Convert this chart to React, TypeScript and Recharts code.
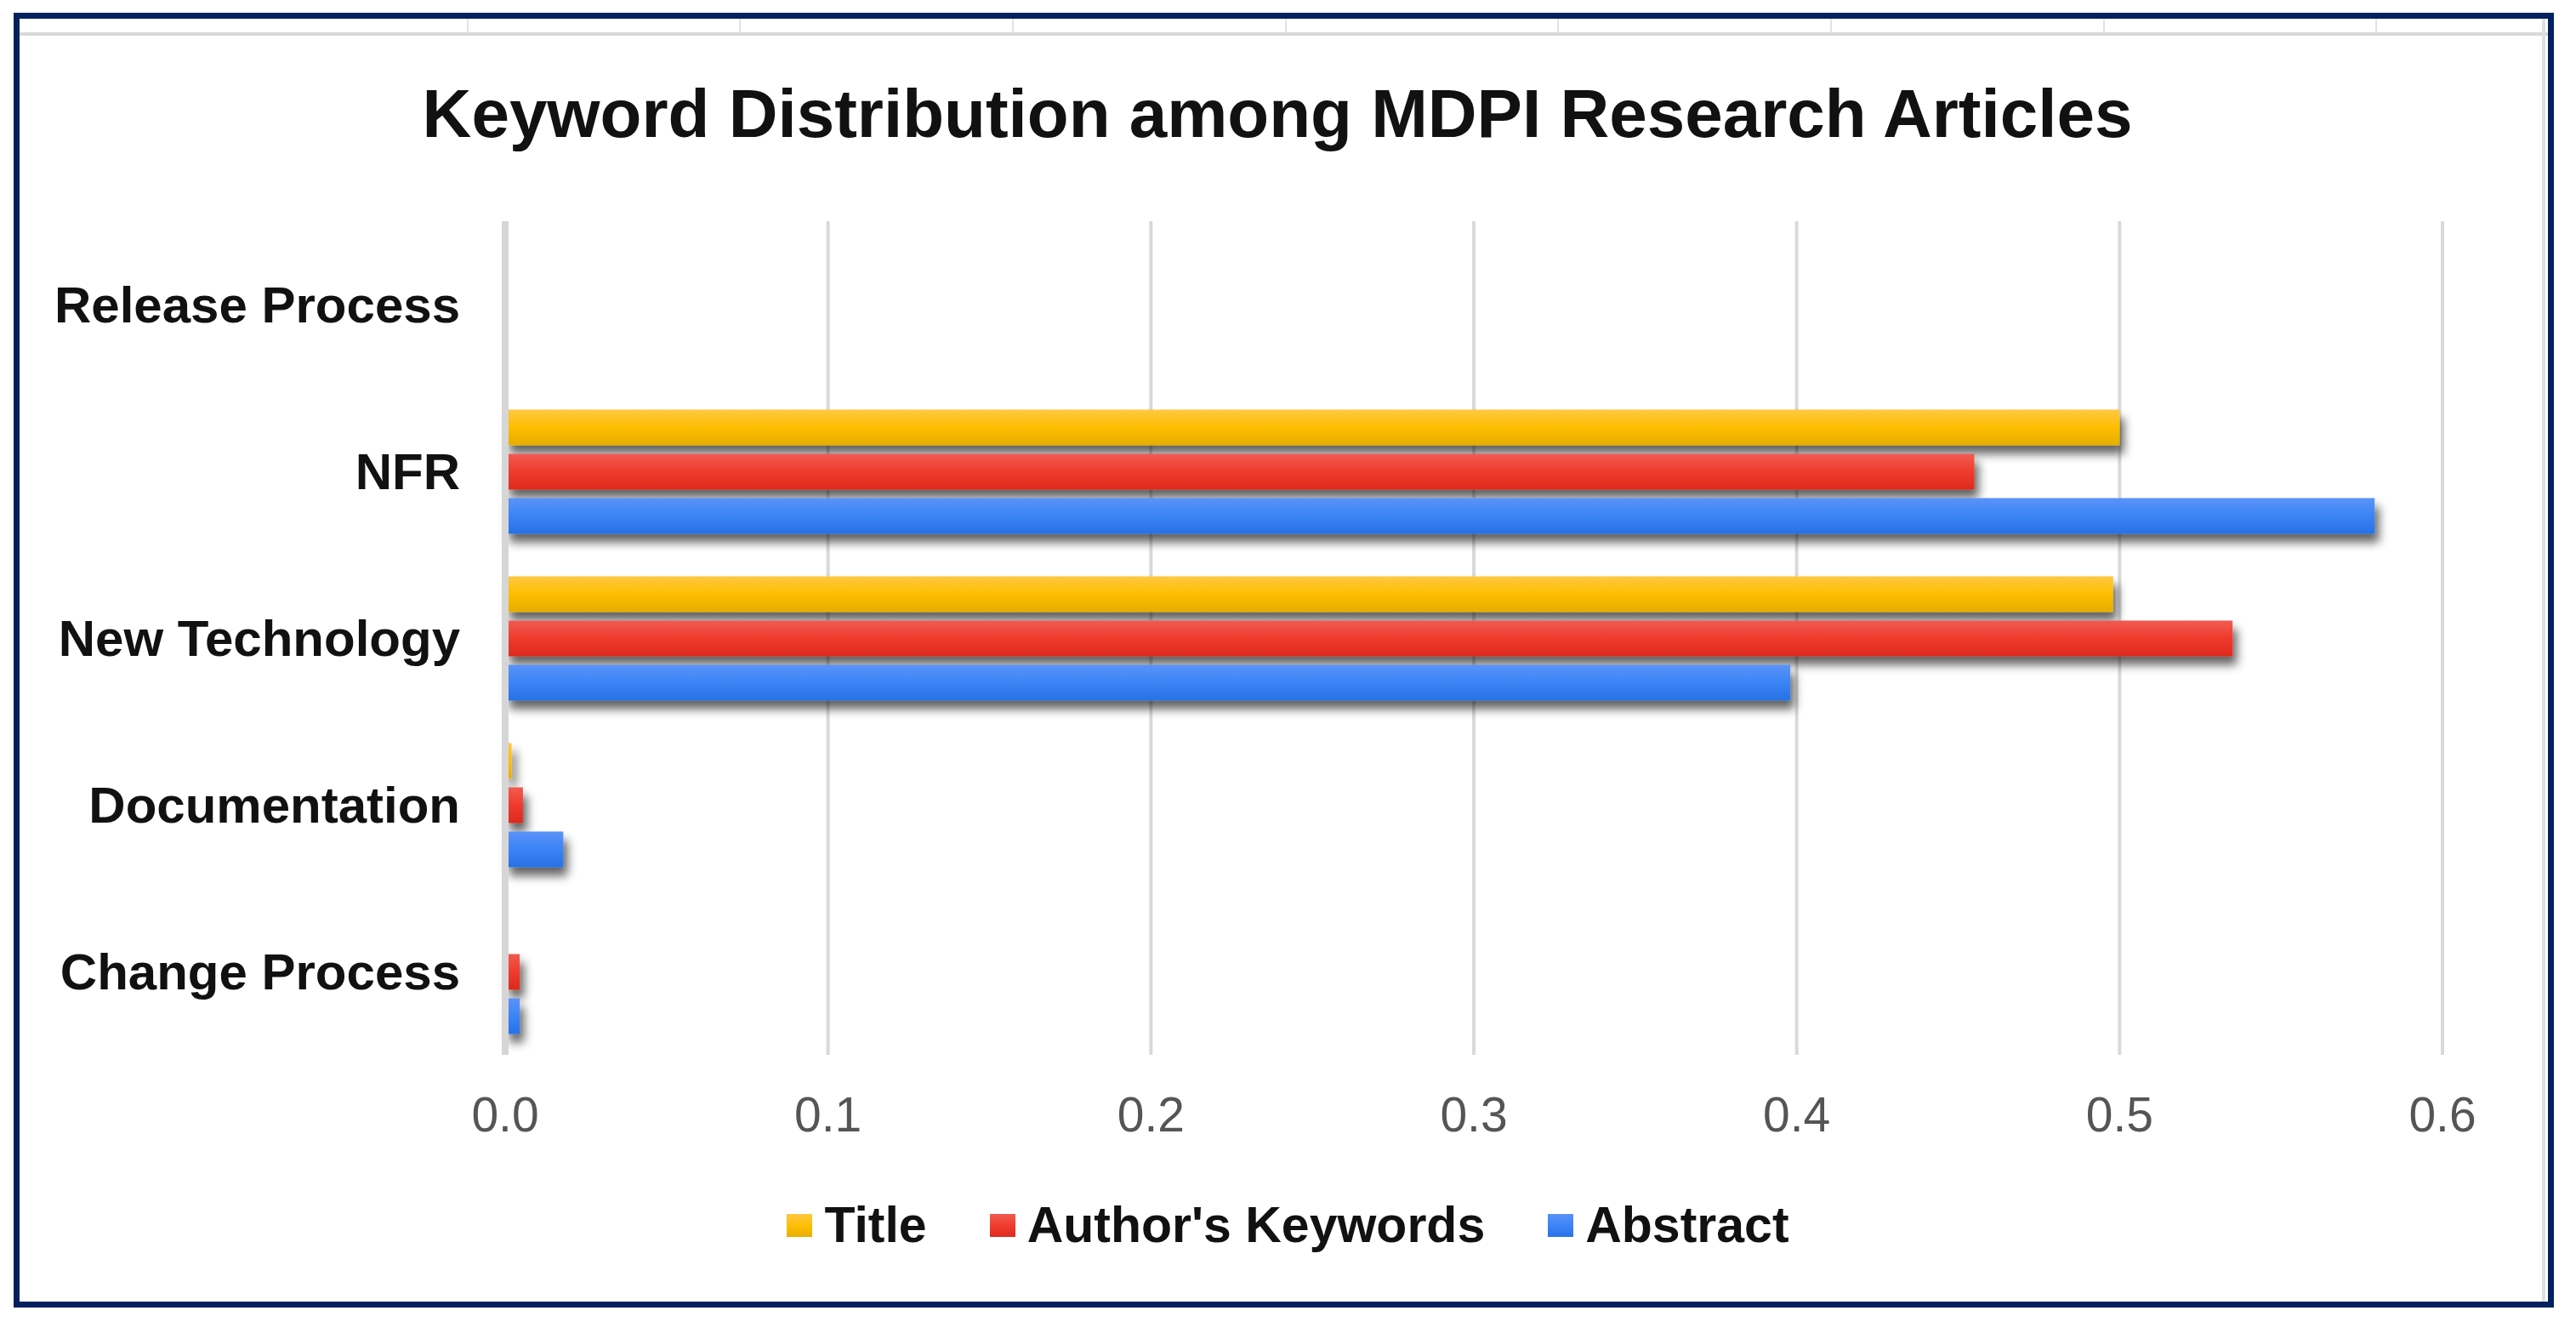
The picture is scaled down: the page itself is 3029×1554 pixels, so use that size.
import React from 'react';
import { BarChart, Bar, XAxis, YAxis, CartesianGrid, Legend } from 'recharts';

const categories = ['Release Process', 'NFR', 'New Technology', 'Documentation', 'Change Process'];
const titleValues = [0, 0.5, 0.498, 0.002, 0];
const authorValues = [0, 0.455, 0.535, 0.0055, 0.0045];
const abstractValues = [0, 0.579, 0.398, 0.018, 0.0045];
const xTicks = [0, 0.1, 0.2, 0.3, 0.4, 0.5, 0.6];
const seriesNames = ['Title', "Author's Keywords", 'Abstract'];
const seriesKeys = ['title', 'author', 'abstract'];
const gradIds = ['gYellow', 'gRed', 'gBlue'];
const legendGradients = [
  'linear-gradient(#ffc843, #fdbd00 55%, #e8ae00)',
  'linear-gradient(#f05c52, #ef3a2c 55%, #de2b1e)',
  'linear-gradient(#5b93f8, #3a83f6 55%, #2872e6)',
];

const data = categories.map((name, i) => ({
  name,
  title: titleValues[i],
  author: authorValues[i],
  abstract: abstractValues[i],
}));

const FONT = '"Liberation Sans", Arial, Helvetica, sans-serif';

const makeShape = (gid: string) => (props: any) => {
  const { x, y, width, height } = props;
  if (!width || width <= 0 || !height) return <g />;
  return <rect x={x} y={y} width={width} height={height} fill={`url(#${gid})`} filter="url(#barShadow)" />;
};

const renderLegend = () => (
  <div style={{ display: 'flex', justifyContent: 'center', alignItems: 'center', fontFamily: FONT }}>
    {seriesNames.map((n, i) => (
      <div key={n} style={{ display: 'flex', alignItems: 'center', marginLeft: i === 0 ? 0 : 74, height: 59 }}>
        <div style={{ width: 30, height: 27, background: legendGradients[i], marginRight: 14 }} />
        <span style={{ fontSize: 59, lineHeight: '59px', fontWeight: 'bold', color: '#111' }}>{n}</span>
      </div>
    ))}
  </div>
);

const sheetLines = [549, 869, 1190, 1511, 1831, 2152, 2473, 2793];

export default function App() {
  return (
    <div style={{ position: 'absolute', left: 0, top: 0, width: 3029, height: 1554, background: '#fff', fontFamily: FONT, overflow: 'hidden' }}>
      <svg width={0} height={0} style={{ position: 'absolute' }}>
        <defs>
          <linearGradient id="gYellow" x1="0" y1="0" x2="0" y2="1">
            <stop offset="0" stopColor="#ffc843" />
            <stop offset="0.5" stopColor="#fdbe00" />
            <stop offset="1" stopColor="#e6ad00" />
          </linearGradient>
          <linearGradient id="gRed" x1="0" y1="0" x2="0" y2="1">
            <stop offset="0" stopColor="#f05c52" />
            <stop offset="0.5" stopColor="#ef3a2c" />
            <stop offset="1" stopColor="#dd2a1d" />
          </linearGradient>
          <linearGradient id="gBlue" x1="0" y1="0" x2="0" y2="1">
            <stop offset="0" stopColor="#5b93f8" />
            <stop offset="0.5" stopColor="#3a84f6" />
            <stop offset="1" stopColor="#2771e5" />
          </linearGradient>
          <filter id="barShadow" filterUnits="userSpaceOnUse" x="0" y="0" width="3029" height="1554">
            <feGaussianBlur in="SourceAlpha" stdDeviation="6" result="blur" />
            <feOffset in="blur" dx="5" dy="10" result="off" />
            <feComponentTransfer in="off" result="sh">
              <feFuncA type="linear" slope="0.62" />
            </feComponentTransfer>
            <feMerge>
              <feMergeNode in="sh" />
              <feMergeNode in="SourceGraphic" />
            </feMerge>
          </filter>
        </defs>
      </svg>

      {/* spreadsheet cell artifacts at top */}
      {sheetLines.map((x) => (
        <div key={x} style={{ position: 'absolute', left: x, top: 22, width: 2, height: 16, background: '#e2e2e2' }} />
      ))}
      <div style={{ position: 'absolute', left: 22, top: 38, width: 2975, height: 4, background: '#d9d9d9' }} />
      <div style={{ position: 'absolute', left: 2989, top: 22, width: 4, height: 1508, background: '#e0e0e0' }} />

      <div
        style={{
          position: 'absolute', left: 0, top: 94, width: 3004, textAlign: 'center',
          fontSize: 80, lineHeight: '80px', fontWeight: 'bold', color: '#111',
        }}
      >
        Keyword Distribution among MDPI Research Articles
      </div>

      <div style={{ position: 'absolute', left: 0, top: 0 }}>
        <BarChart
          width={3029}
          height={1554}
          data={data}
          layout="vertical"
          margin={{ top: 260, right: 157, bottom: 0, left: 0 }}
          barCategoryGap="13%"
          barGap={10}
        >
          <CartesianGrid horizontal={false} vertical={true} stroke="#d9d9d9" strokeWidth={4} />
          <XAxis
            type="number"
            domain={[0, 0.6]}
            ticks={xTicks}
            height={314}
            axisLine={false}
            tickLine={false}
            tickSize={0}
            tickMargin={50}
            tickFormatter={(v: number) => v.toFixed(1)}
            tick={{ fontSize: 57, fill: '#555', fontFamily: FONT }}
          />
          <YAxis
            type="category"
            dataKey="name"
            width={594}
            axisLine={{ stroke: '#d6d6d6', strokeWidth: 8 }}
            tickLine={false}
            tickSize={0}
            tickMargin={53}
            interval={0}
            tick={{ fontSize: 60, fill: '#111', fontWeight: 'bold', fontFamily: FONT }}
          />
          {seriesKeys.map((k, i) => (
            <Bar key={k} dataKey={k} name={seriesNames[i]} fill={legendGradients[i]} isAnimationActive={false} shape={makeShape(gradIds[i])} />
          ))}
          <Legend
            layout="horizontal"
            verticalAlign="middle"
            align="center"
            wrapperStyle={{ top: 1411, left: 0, width: 3029 }}
            content={renderLegend}
          />
        </BarChart>
      </div>

      <div
        style={{
          position: 'absolute', left: 16, top: 15, width: 2987, height: 1522,
          border: '7px solid #03215f', boxSizing: 'border-box', pointerEvents: 'none',
        }}
      />
    </div>
  );
}
